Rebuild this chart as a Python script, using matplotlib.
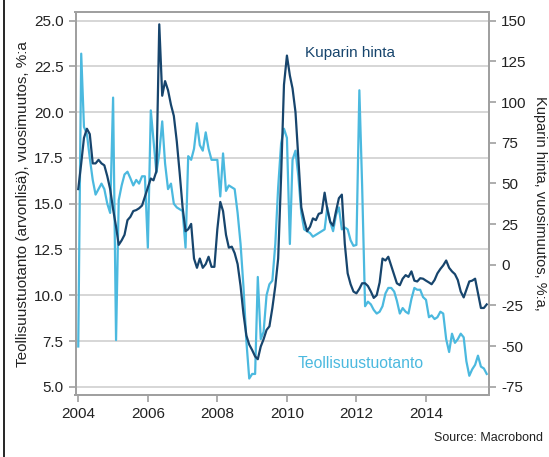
import matplotlib
matplotlib.use("Agg")
import matplotlib.pyplot as plt
import pandas as pd
from matplotlib.lines import Line2D

plt.rcParams['font.family'] = ['Liberation Sans', 'DejaVu Sans']

# Monthly data, starting January 2004
start_month = "2004-01-01"

# Teollisuustuotanto (arvonlisä), vuosimuutos, %:a  (left axis)
teollisuus = [
    7.2, 23.2, 19.2, 18.8, 17.5, 16.3, 15.5, 15.8, 16.1, 15.8, 15.0, 14.5,
    20.8, 7.55, 15.2, 16.0, 16.6, 16.75, 16.4, 16.0, 16.3, 16.1, 16.5, 16.5,
    12.6, 20.1, 18.5, 16.7, 17.75, 19.5, 17.2, 15.8, 16.1, 15.0, 14.8, 14.7,
    14.6, 12.6, 17.6, 17.4, 18.0, 19.4, 18.2, 17.9, 18.9, 18.0, 17.4, 17.4,
    17.4, 15.4, 17.75, 15.7, 16.0, 15.9, 15.8, 14.5, 12.8, 10.5, 7.5, 5.45,
    5.7, 5.7, 11.0, 7.6, 8.0, 10.0, 10.6, 10.8, 12.8, 15.9, 18.3, 19.1,
    18.6, 12.8, 17.4, 17.9, 16.5, 14.5, 13.6, 13.5, 13.4, 13.2, 13.3, 13.4,
    13.5, 13.6, 14.8, 14.0, 13.5, 14.4, 14.8, 13.6, 13.7, 13.6, 13.0, 12.7,
    12.75, 21.2, 16.0, 9.4, 9.65, 9.5, 9.2, 9.0, 9.1, 9.4, 10.1, 10.4,
    10.4, 10.2, 9.7, 9.0, 9.3, 9.1, 9.0, 9.8, 10.4, 10.3, 10.3, 9.9,
    9.75, 8.8, 8.9, 8.7, 8.8, 9.1, 9.0, 7.6, 6.9, 7.9, 7.4, 7.6,
    7.9, 7.7, 6.4, 5.6, 5.95, 6.2, 6.7, 6.1, 6.0, 5.7,
]

# Kuparin hinta, vuosimuutos, %:a  (right axis)
kupari = [
    46.5, 62.3, 78.0, 83.6, 80.3, 62.3, 62.3, 64.5, 62.3, 61.1, 54.4, 46.5,
    34.1, 23.4, 12.2, 15.0, 18.4, 27.4, 29.4, 33.0, 33.6, 34.7, 36.4, 41.8,
    47.4, 53.0, 51.9, 57.5, 147.8, 103.9, 112.9, 107.3, 98.3, 91.5, 75.8, 56.6,
    35.3, 20.6, 21.8, 25.1, 3.8, -1.9, 3.8, -1.9, 0.4, 4.9, -1.3, -1.3,
    21.8, 38.6, 33.0, 18.4, 10.5, 11.1, 7.1, 0.4, -13.1, -30.0, -43.5, -49.1,
    -52.5, -56.4, -58.1, -50.3, -45.8, -40.1, -37.9, -26.6, -13.1, 3.8, 54.4, 110.6,
    128.6, 116.3, 108.4, 93.8, 65.6, 35.3, 27.4, 20.6, 23.4, 28.5, 27.4, 31.3,
    31.9, 44.3, 34.1, 26.3, 24.0, 33.0, 40.9, 43.1, 12.8, -5.3, -12.0, -16.5,
    -17.6, -14.8, -11.4, -11.4, -13.1, -16.5, -20.4, -18.75, -10.9, 3.8, 2.6, 4.9,
    -0.75, -6.4, -11.4, -12.6, -8.6, -6.4, -7.5, -4.1, -9.8, -10.3, -8.3, -8.6,
    -9.8, -10.9, -12.0, -9.4, -5.3, -2.6, -0.4, 2.6, -1.9, -4.1, -5.8, -9.4,
    -16.5, -20.1, -15.4, -10.3, -9.8, -8.6, -17.6, -26.6, -26.6, -24.4,
]

left_ticks = [5.0, 7.5, 10.0, 12.5, 15.0, 17.5, 20.0, 22.5, 25.0]
right_ticks = [-75, -50, -25, 0, 25, 50, 75, 100, 125, 150]
year_ticks = [2004, 2006, 2008, 2010, 2012, 2014]

dates_t = pd.date_range(start_month, periods=len(teollisuus), freq="MS")
dates_k = pd.date_range(start_month, periods=len(kupari), freq="MS")

dark = "#17456d"
light = "#4bb9df"
spine_c = "#a0a0a0"
grid_c = "#d0d0d0"
text_c = "#222222"

fig = plt.figure(figsize=(5.49, 4.57), dpi=100)
ax = fig.add_axes([75.5 / 549, 1 - 395 / 457, (489.3 - 75.5) / 549, (395 - 12.3) / 457])
ax2 = ax.twinx()

ax.plot(dates_t, teollisuus, color=light, lw=1.6, zorder=3)
ax2.plot(dates_k, kupari, color=dark, lw=1.6, zorder=3)

ax.set_ylim(4.55, 25.46)
ax2.set_ylim(-80.1, 155.2)
ax.set_xlim(pd.Timestamp("2003-12-03"), pd.Timestamp("2015-10-28"))

ax.set_yticks(left_ticks)
ax.set_yticklabels([f"{v:.1f}" for v in left_ticks])
ax2.set_yticks(right_ticks)
ax2.set_yticklabels([str(v) for v in right_ticks])
ax.set_xticks([pd.Timestamp(f"{y}-01-01") for y in year_ticks])
ax.set_xticklabels([str(y) for y in year_ticks])

ax.grid(axis="y", color=grid_c, lw=1.2)
ax.set_axisbelow(True)

for a in (ax, ax2):
    for s in a.spines.values():
        s.set_color(spine_c)
        s.set_linewidth(1.4)
    a.tick_params(colors=spine_c, labelcolor=text_c, labelsize=11, length=5, width=1.2)

ax.set_ylabel("Teollisuustuotanto (arvonlisä), vuosimuutos, %:a", fontsize=11, color=text_c)
ax2.set_ylabel("Kuparin hinta, vuosimuutos, %:a,", fontsize=10.5, color=text_c, rotation=270)
ax.yaxis.set_label_coords(-0.11, 0.5)
ax2.yaxis.set_label_coords(1.14, 0.5)

fig.text(305 / 549, 1 - 53 / 457, "Kuparin hinta", color=dark, fontsize=11, va="center", ha="left")
fig.text(298 / 549, 1 - 364 / 457, "Teollisuustuotanto", color=light, fontsize=11.3, va="center", ha="left")
fig.text(543 / 549, 1 - 438 / 457, "Source: Macrobond", color=text_c, fontsize=9, va="center", ha="right")

fig.add_artist(Line2D([4 / 549, 4 / 549], [0, 1], transform=fig.transFigure, color="black", lw=1.2))

fig.savefig("out.png", dpi=100)
